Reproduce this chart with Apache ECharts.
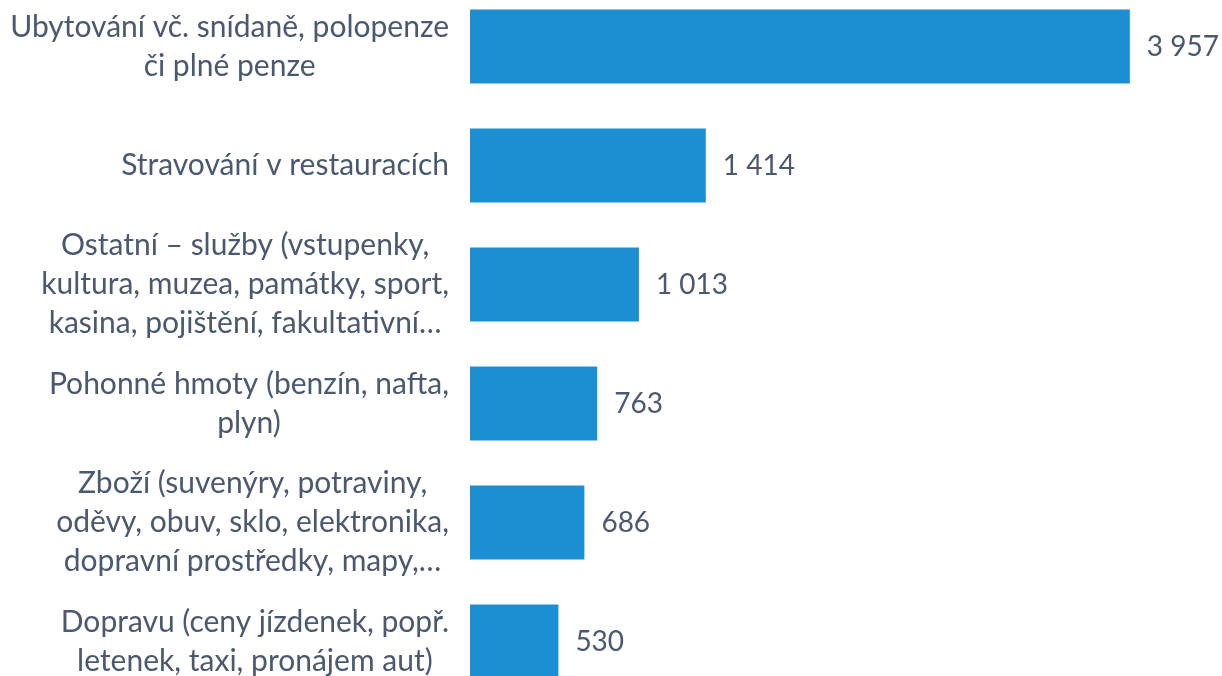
<!DOCTYPE html>
<html>
<head>
<meta charset="utf-8">
<script src="https://cdn.jsdelivr.net/npm/echarts@6/dist/echarts.min.js"></script>
<style>html,body{margin:0;padding:0;background:#fff;overflow:hidden;width:1222px;height:676px}#c{position:absolute;left:0;top:-13px;width:1222px;height:714px}</style>
</head>
<body>
<div id="c"></div>
<script>
const categories = [
  "Ubytování vč. snídaně, polopenze\nči plné penze",
  "Stravování v restauracích",
  "Ostatní – služby (vstupenky,\nkultura, muzea, památky, sport,\nkasina, pojištění, fakultativní…",
  "Pohonné hmoty (benzín, nafta,\nplyn)",
  "Zboží (suvenýry, potraviny,\noděvy, obuv, sklo, elektronika,\ndopravní prostředky, mapy,…",
  "Dopravu (ceny jízdenek, popř.\nletenek, taxi, pronájem aut)"
];
const values = [3957, 1414, 1013, 763, 686, 530];

const FONT = 'Lato';
const TXT = '#4A5870';
const chart = echarts.init(document.getElementById('c'), null, {renderer: 'canvas'});
chart.setOption({
  animation: false,
  grid: {left: 470, width: 667, top: 0, height: 714, containLabel: false},
  xAxis: {type: 'value', min: 0, max: 4000, show: false},
  yAxis: {
    type: 'category', inverse: true, data: categories,
    axisLine: {show: false}, axisTick: {show: false}, splitLine: {show: false},
    axisLabel: {
      margin: 21, align: 'right',
      formatter: v => v.split('\n').map(l => '{c|' + l + '}').join('\n'),
      rich: {c: {align: 'center', fontFamily: FONT, fontSize: 30, color: TXT, lineHeight: 39}}
    }
  },
  series: [{
    type: 'bar', data: values, barCategoryGap: '37.8%',
    itemStyle: {color: '#1B8FD1'},
    label: {
      show: true, position: 'right', distance: 17,
      fontFamily: FONT, fontSize: 28, color: TXT,
      formatter: p => String(p.value).replace(/\B(?=(\d{3})+(?!\d))/g, ' ')
    }
  }]
});
</script>
</body>
</html>
